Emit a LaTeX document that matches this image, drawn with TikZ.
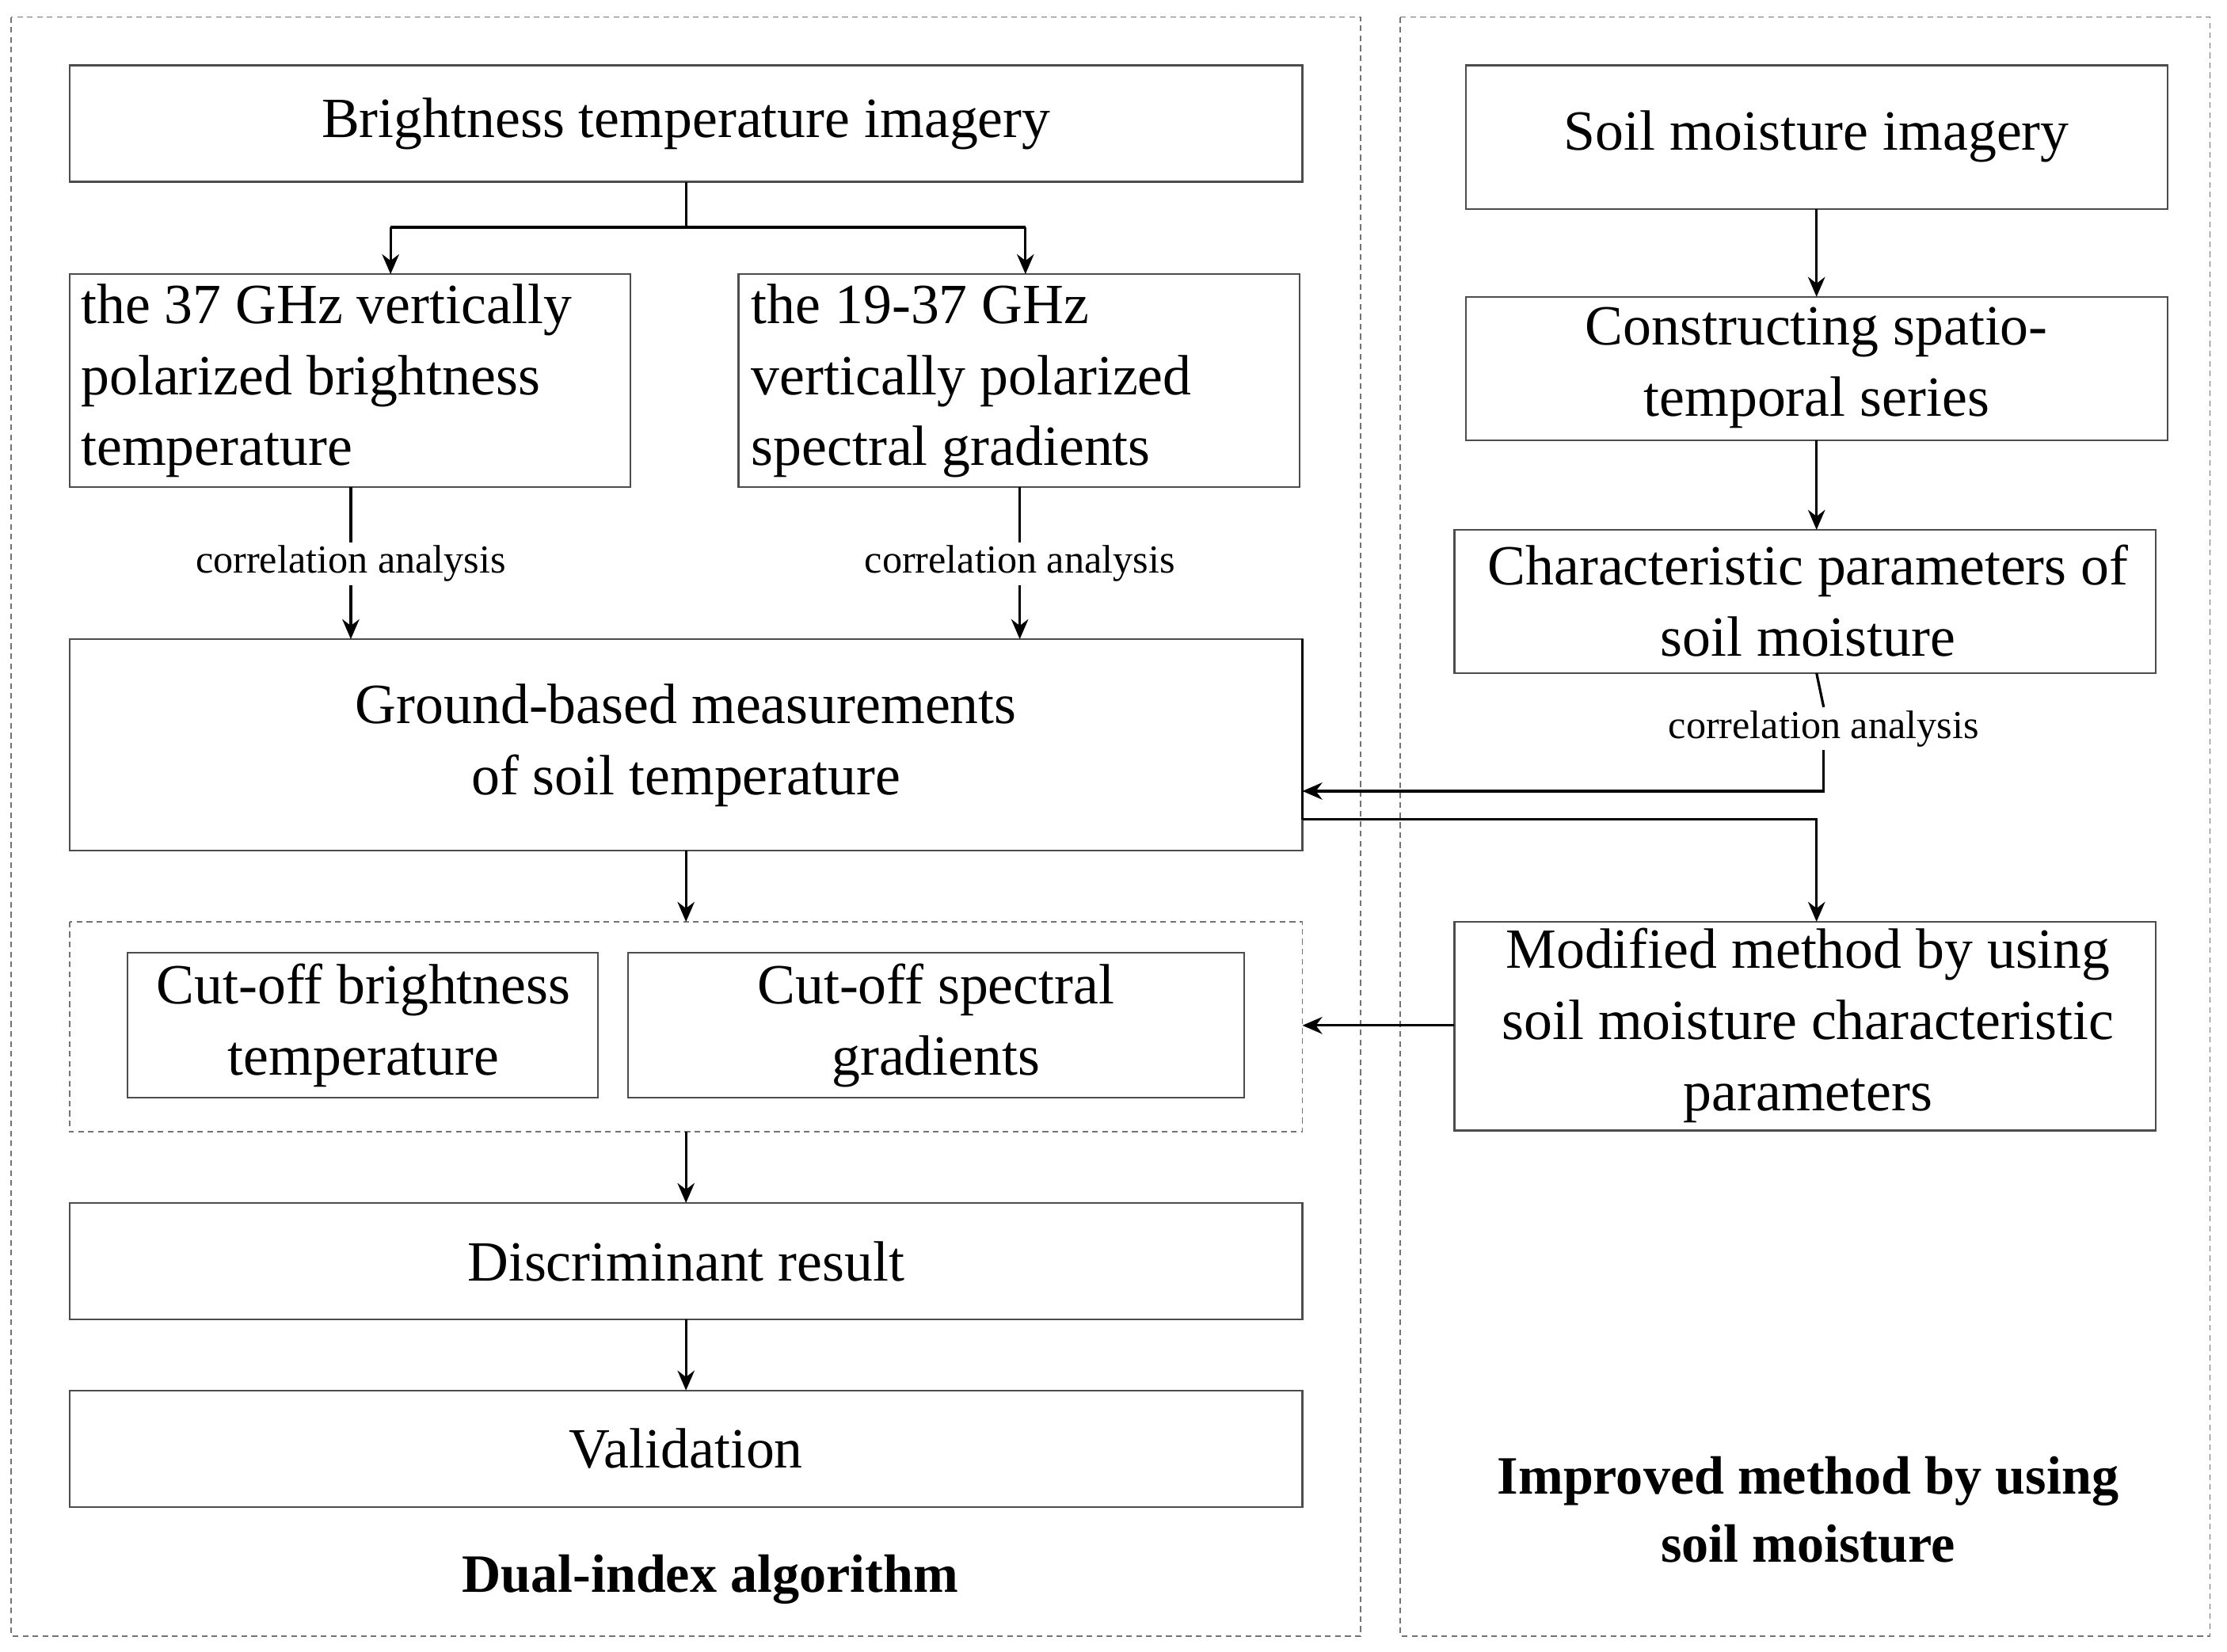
\documentclass[tikz,border=0pt]{standalone}
\usepackage{fontspec}
\setmainfont{Liberation Serif}
\usetikzlibrary{arrows.meta}
\begin{document}
\begin{tikzpicture}[x=0.5pt,y=-0.5pt,
 box/.style={draw=black!70,line width=0.6pt},
 dbox/.style={draw=black!55,dashed,dash pattern=on 2pt off 1.5pt,line width=0.5pt},
 txt/.style={font=\fontsize{20}{25}\selectfont,align=center},
 ltxt/.style={font=\fontsize{20}{25}\selectfont,align=left,anchor=north west},
 small/.style={font=\fontsize{14}{16}\selectfont,fill=white,inner sep=1pt},
 bold/.style={font=\fontsize{19}{24}\selectfont\bfseries,align=center},
 arr/.style={-{Stealth[length=7pt,width=6pt]},line width=0.9pt},
 ln/.style={line width=0.9pt}]
\useasboundingbox[fill=white] (0,0) rectangle (1568,1163);
\draw[dbox] (8,12) rectangle (958,1152);
\draw[dbox] (986,12) rectangle (1556,1152);
% left column
\draw[box] (49,46) rectangle (917,128);
\node[txt] (bt) at (483,87) {Brightness temperature imagery};
\draw[box] (49,193) rectangle (444,343);
\node[ltxt] (t37) at (50,193) {the 37 GHz vertically\\polarized brightness\\temperature};
\draw[box] (520,193) rectangle (915,343);
\node[ltxt] (t19) at (522,193) {the 19-37 GHz\\vertically polarized\\spectral gradients};
\draw[box] (49,450) rectangle (917,599);
\node[txt] (gb) at (483,525) {Ground-based measurements\\of soil temperature};
\draw[dbox] (49,649) rectangle (917,797);
\draw[box] (90,671) rectangle (421,773);
\node[txt] (cb) at (256,722) {Cut-off brightness\\temperature};
\draw[box] (442,671) rectangle (876,773);
\node[txt] (cs) at (659,722) {Cut-off spectral\\gradients};
\draw[box] (49,847) rectangle (917,929);
\node[txt] (dr) at (483,888) {Discriminant result};
\draw[box] (49,979) rectangle (917,1061);
\node[txt] (va) at (483,1020) {Validation};
\node[bold] (dl) at (500,1112) {Dual-index algorithm};
% right column
\draw[box] (1032,46) rectangle (1526,147);
\node[txt] (sm) at (1279,96) {Soil moisture imagery};
\draw[box] (1032,209) rectangle (1526,310);
\node[txt] (cst) at (1279,259) {Constructing spatio-\\temporal series};
\draw[box] (1024,373) rectangle (1518,474);
\node[txt] (cp) at (1273,423) {Characteristic parameters of\\soil moisture};
\draw[box] (1024,649) rectangle (1518,796);
\node[txt] (mm) at (1273,722) {Modified method by using\\soil moisture characteristic\\parameters};
\node[bold] (im) at (1273,1063) {Improved method by using\\soil moisture};
% coordinates
\coordinate (a0) at (483,128); \coordinate (a1) at (483,160);
\coordinate (a2) at (275,160); \coordinate (a3) at (722,160);
\coordinate (a4) at (275,193); \coordinate (a5) at (722,193);
\draw[ln] (a0)--(a1); \draw[ln] (a2)--(a3);
\draw[arr] (a2)--(a4); \draw[arr] (a3)--(a5);
\node[small] (c1) at (247,397) {correlation analysis};
\node[small] (c2) at (718,397) {correlation analysis};
\coordinate (b1) at (247,343); \coordinate (b2) at (247,450);
\coordinate (b3) at (718,343); \coordinate (b4) at (718,450);
\draw[ln] (b1)--(c1.north); \draw[arr] (c1.south)--(b2);
\draw[ln] (b3)--(c2.north); \draw[arr] (c2.south)--(b4);
\coordinate (g1) at (483,599); \coordinate (g2) at (483,649);
\draw[arr] (g1)--(g2);
\coordinate (g3) at (483,797); \coordinate (g4) at (483,847);
\draw[arr] (g3)--(g4);
\coordinate (g5) at (483,929); \coordinate (g6) at (483,979);
\draw[arr] (g5)--(g6);
\coordinate (s1) at (1279,147); \coordinate (s2) at (1279,209);
\draw[arr] (s1)--(s2);
\coordinate (s3) at (1279,310); \coordinate (s4) at (1279,373);
\draw[arr] (s3)--(s4);
\node[small] (c3) at (1284,513) {correlation analysis};
\coordinate (s5) at (1279,474); \coordinate (s6) at (1279,557); \coordinate (s7) at (917,557);
\draw[ln] (s5)--(c3.north);
\draw[arr] (c3.south) |- (s7);
\coordinate (r0) at (917,450); \coordinate (r1) at (917,577); \coordinate (r2) at (1279,649);
\draw[ln] (r0)--(r1);
\draw[arr] (r1) -| (r2);
\coordinate (m1) at (1024,722); \coordinate (m2) at (917,722);
\draw[arr] (m1)--(m2);
\end{tikzpicture}
\end{document}
